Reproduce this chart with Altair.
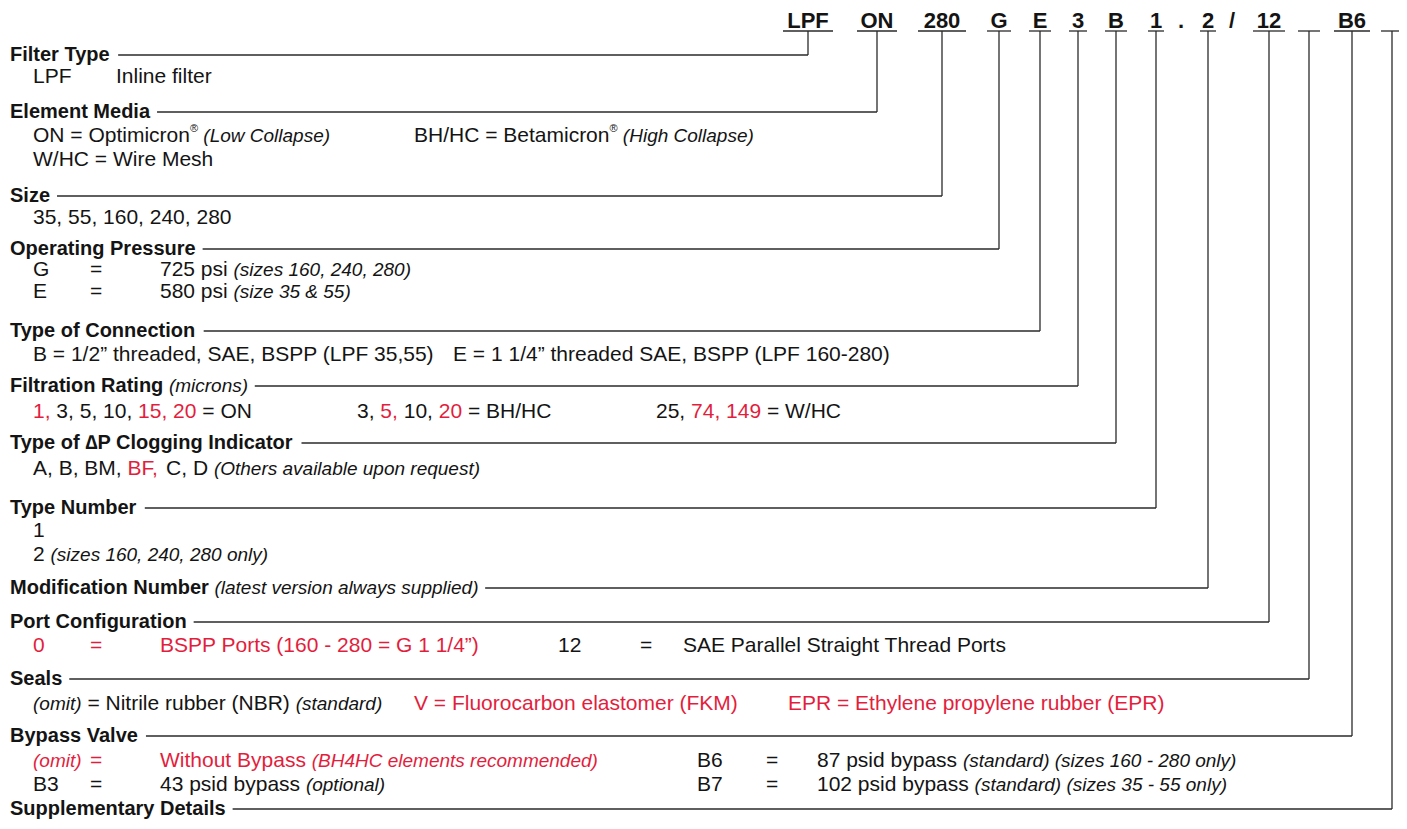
import altair as alt
import pandas as pd

# ---------------- content ----------------
RED = "#e31e3d"
BLACK = "#141414"
LINE = "#2a2a2a"
FONT = "Liberation Sans"

codes = ["LPF", "ON", "280", "G", "E", "3", "B", "1", ".", "2", "/", "12", "", "B6", ""]
code_underlined = [1, 1, 1, 1, 1, 1, 1, 1, 0, 1, 0, 1, 1, 1, 1]

section_titles = ["Filter Type", "Element Media", "Size", "Operating Pressure",
                  "Type of Connection", "Filtration Rating", "Type of \u2206P Clogging Indicator",
                  "Type Number", "Modification Number", "Port Configuration", "Seals",
                  "Bypass Valve", "Supplementary Details"]
section_notes = ["", "", "", "", "", "(microns)", "", "",
                 "(latest version always supplied)", "", "", "", ""]
section_code_index = [0, 1, 2, 3, 4, 5, 6, 7, 9, 11, 12, 13, 14]

# body: per section -> rows -> columns -> runs (text, style, colour)
# style: n = normal, i = italic, s = superscript ; colour: k = black, r = red
body = [
    [[[("LPF", "n", "k")], [("Inline filter", "n", "k")]]],
    [[[("ON = Optimicron", "n", "k"), ("\u00ae", "s", "k"), (" (Low Collapse)", "i", "k")],
      [("BH/HC = Betamicron", "n", "k"), ("\u00ae", "s", "k"), (" (High Collapse)", "i", "k")]],
     [[("W/HC = Wire Mesh", "n", "k")]]],
    [[[("35, 55, 160, 240, 280", "n", "k")]]],
    [[[("G", "n", "k")], [("=", "n", "k")], [("725 psi ", "n", "k"), ("(sizes 160, 240, 280)", "i", "k")]],
     [[("E", "n", "k")], [("=", "n", "k")], [("580 psi ", "n", "k"), ("(size 35 & 55)", "i", "k")]]],
    [[[("B = 1/2\u201d threaded, SAE, BSPP (LPF 35,55)", "n", "k")],
      [("E = 1 1/4\u201d threaded SAE, BSPP (LPF 160-280)", "n", "k")]]],
    [[[("1, ", "n", "r"), ("3, 5, 10, ", "n", "k"), ("15, 20", "n", "r"), (" = ON", "n", "k")],
      [("3, ", "n", "k"), ("5, ", "n", "r"), ("10, ", "n", "k"), ("20", "n", "r"), (" = BH/HC", "n", "k")],
      [("25, ", "n", "k"), ("74, 149", "n", "r"), (" = W/HC", "n", "k")]]],
    [[[("A, B, BM, ", "n", "k"), ("BF, ", "n", "r"), ("C, D ", "n", "k"),
       ("(Others available upon request)", "i", "k")]]],
    [[[("1", "n", "k")]],
     [[("2 ", "n", "k"), ("(sizes 160, 240, 280 only)", "i", "k")]]],
    [],
    [[[("0", "n", "r")], [("=", "n", "r")], [("BSPP Ports (160 - 280 = G 1 1/4\u201d)", "n", "r")],
      [("12", "n", "k")], [("=", "n", "k")], [("SAE Parallel Straight Thread Ports", "n", "k")]]],
    [[[("(omit)", "i", "k"), (" = Nitrile rubber (NBR) ", "n", "k"), ("(standard)", "i", "k")],
      [("V = Fluorocarbon elastomer (FKM)", "n", "r")],
      [("EPR = Ethylene propylene rubber (EPR)", "n", "r")]]],
    [[[("(omit)", "i", "r")], [("=", "n", "r")],
      [("Without Bypass ", "n", "r"), ("(BH4HC elements recommended)", "i", "r")],
      [("B6", "n", "k")], [("=", "n", "k")],
      [("87 psid bypass ", "n", "k"), ("(standard) (sizes 160 - 280 only)", "i", "k")]],
     [[("B3", "n", "k")], [("=", "n", "k")], [("43 psid bypass ", "n", "k"), ("(optional)", "i", "k")],
      [("B7", "n", "k")], [("=", "n", "k")],
      [("102 psid bypass ", "n", "k"), ("(standard) (sizes 35 - 55 only)", "i", "k")]]],
    [],
]

# ---------------- layout ----------------
code_x = [808, 877, 942, 999, 1040, 1078, 1116, 1156, 1181, 1208, 1232, 1269, 1309, 1352, 1392]
code_half = [25, 20, 24, 12, 11, 9, 11, 8, 0, 8, 0, 16, 11, 18, 11]
code_baseline = 28
underline_y = 31
title_x = 10
title_y = [55, 112, 196, 249, 331, 386, 443, 508, 588, 622, 679, 736, 809]
row_y = [[77], [136, 160], [218], [270, 292], [355], [412], [469], [531, 555], [],
         [646], [704], [761, 785], []]
col_x = [[[33, 116]], [[33, 414], [33]], [[33]], [[33, 90, 160], [33, 90, 160]], [[33, 453]],
         [[33, 357, 656]], [[33]], [[33], [33]], [], [[33, 90, 160, 558, 640, 683]],
         [[33, 414, 788]], [[33, 90, 160, 697, 766, 817], [33, 90, 160, 697, 766, 817]], []]

TITLE_SIZE = 20
BODY_SIZE = 21
ITAL_SIZE = 19
SUP_SIZE = 11
CODE_SIZE = 22

# Arial / Liberation Sans advance widths (1/1000 em)
REG = dict(zip("ABCDEFGHIJKLMNOPQRSTUVWXYZ",
               [667, 667, 722, 722, 667, 611, 778, 722, 278, 500, 667, 556, 833, 722, 778, 667, 778, 722,
                667, 611, 722, 667, 944, 667, 667, 611]))
REG.update(zip("abcdefghijklmnopqrstuvwxyz",
               [556, 556, 500, 556, 556, 278, 556, 556, 222, 222, 500, 222, 833, 556, 556, 556, 556, 333,
                500, 278, 556, 500, 722, 500, 500, 500]))
BOLD = dict(zip("ABCDEFGHIJKLMNOPQRSTUVWXYZ",
                [722, 722, 722, 722, 667, 611, 778, 722, 278, 556, 722, 611, 833, 722, 778, 667, 778, 722,
                 667, 611, 722, 667, 944, 667, 667, 611]))
BOLD.update(zip("abcdefghijklmnopqrstuvwxyz",
                [556, 611, 556, 611, 556, 333, 611, 611, 278, 278, 556, 278, 889, 611, 611, 611, 611, 389,
                 556, 333, 611, 556, 778, 556, 556, 500]))
PUNCT = {" ": 278, ",": 278, ".": 278, "/": 278, "(": 333, ")": 333, "-": 333, "=": 584,
         "&": 667, "\u201d": 333, "\u00ae": 737, "\u2206": 612}
for d in (REG, BOLD):
    d.update(PUNCT)
    d.update({c: 556 for c in "0123456789"})


def tw(s, size, bold=False):
    table = BOLD if bold else REG
    return sum(table.get(c, 556) for c in s) * size / 1000.0


colour_map = {"k": BLACK, "r": RED}
size_map = {"n": BODY_SIZE, "i": ITAL_SIZE, "s": SUP_SIZE}

texts = []
for s, rows in enumerate(body):
    for r, cols in enumerate(rows):
        y = row_y[s][r]
        for c, runs in enumerate(cols):
            x = col_x[s][r][c]
            for (t, st, cl) in runs:
                size = size_map[st]
                lead = len(t) - len(t.lstrip(" "))
                xs = x + tw(" " * lead, size)
                texts.append({"x": xs, "y": y - 7 if st == "s" else y, "text": t.strip(" "),
                              "kind": st, "color": colour_map[cl]})
                x += tw(t, size)

for s, title in enumerate(section_titles):
    texts.append({"x": title_x, "y": title_y[s], "text": title, "kind": "b", "color": BLACK})
    if section_notes[s]:
        texts.append({"x": title_x + tw(title + " ", TITLE_SIZE, True), "y": title_y[s],
                      "text": section_notes[s], "kind": "i", "color": BLACK})

code_df = pd.DataFrame({"x": code_x, "y": [code_baseline] * len(codes), "text": codes})

rules = []
for i, cx in enumerate(code_x):
    if code_underlined[i]:
        rules.append({"x": cx - code_half[i], "x2": cx + code_half[i], "y": underline_y, "y2": underline_y})
for s, title in enumerate(section_titles):
    cx = code_x[section_code_index[s]]
    end = title_x + tw(title, TITLE_SIZE, True)
    if section_notes[s]:
        end += tw(" " + section_notes[s], ITAL_SIZE)
    rules.append({"x": end + 7, "x2": cx, "y": title_y[s], "y2": title_y[s]})
    rules.append({"x": cx, "x2": cx, "y": underline_y, "y2": title_y[s]})

tdf = pd.DataFrame(texts)
rdf = pd.DataFrame(rules)

xs = alt.Scale(domain=[8, 1399], nice=False, zero=False)
ys = alt.Scale(domain=[8, 821], nice=False, zero=False, reverse=True)

X = alt.X("x:Q", scale=xs, axis=None)
Y = alt.Y("y:Q", scale=ys, axis=None)


def text_layer(kind, **props):
    return alt.Chart(tdf[tdf["kind"] == kind]).mark_text(
        align="left", baseline="middle", font=FONT, **props
    ).encode(x=X, y=Y, text="text:N", color=alt.Color("color:N", scale=None))


rule_layer = alt.Chart(rdf).mark_rule(color=LINE, strokeWidth=1.3).encode(
    x=X, x2="x2:Q", y=Y, y2="y2:Q")

code_layer = alt.Chart(code_df).mark_text(
    align="center", baseline="alphabetic", font=FONT, fontSize=CODE_SIZE, fontWeight="bold",
    color=BLACK).encode(x=X, y=Y, text="text:N")

chart = alt.layer(
    rule_layer,
    code_layer,
    text_layer("b", fontSize=TITLE_SIZE, fontWeight="bold"),
    text_layer("n", fontSize=BODY_SIZE),
    text_layer("i", fontSize=ITAL_SIZE, fontStyle="italic"),
    text_layer("s", fontSize=SUP_SIZE),
).properties(
    width=1391, height=813, autosize=alt.AutoSizeParams(type="none"), padding=0,
    background="white"
).configure_view(stroke=None)

chart.save("out.html", embed_options={"renderer": "svg", "actions": False})
